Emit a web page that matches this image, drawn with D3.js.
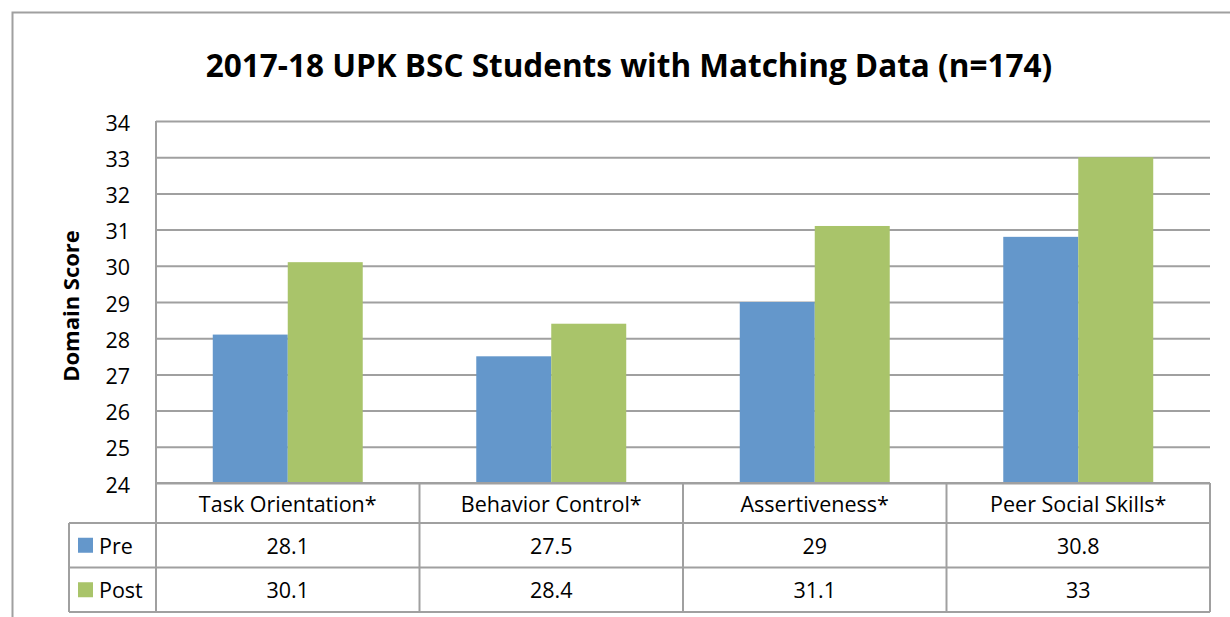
<!DOCTYPE html>
<html>
<head>
<meta charset="utf-8">
<script src="https://cdn.jsdelivr.net/npm/d3@7"></script>
<style>
  body { margin: 0; background: #fff; }
  svg text { font-family: "Open Sans", Lato, sans-serif; fill: #000; }
</style>
</head>
<body>
<div id="chart"></div>
<script>
// chart data
const categories = ["Task Orientation*", "Behavior Control*", "Assertiveness*", "Peer Social Skills*"];
const seriesNames = ["Pre", "Post"];
const preValues = [28.1, 27.5, 29, 30.8];
const postValues = [30.1, 28.4, 31.1, 33];
const yTicks = [24, 25, 26, 27, 28, 29, 30, 31, 32, 33, 34];
const colors = {Pre: "#6497cb", Post: "#a9c46a"};

const seriesValues = {Pre: preValues, Post: postValues};

const W = 1230, H = 617;
const plot = {left: 156, right: 1210, top: 121, bottom: 483};
const gridColor = "#a0a0a0";
const bodySize = "21.5px";

const svg = d3.select("#chart").append("svg")
    .attr("width", W)
    .attr("height", H);

// outer chart border
svg.append("rect")
    .attr("x", 12.5).attr("y", 12.5)
    .attr("width", W).attr("height", H)
    .attr("fill", "none")
    .attr("stroke", gridColor)
    .attr("stroke-width", 2);

// title
svg.append("text")
    .attr("x", 629).attr("y", 77)
    .attr("text-anchor", "middle")
    .style("font-size", "31.5px")
    .style("font-weight", "bold")
    .text("2017-18 UPK BSC Students with Matching Data (n=174)");

// scales
let y = d3.scaleLinear().domain([24, 34]).range([plot.bottom, plot.top]);
let x0 = d3.scaleBand().domain(categories).range([plot.left, plot.right]);
let x1 = d3.scaleBand().domain(seriesNames).range([0, x0.bandwidth()]).paddingOuter(0.757);

// gridlines + y labels
let yAxis = svg.append("g")
    .attr("transform", `translate(${plot.left},0)`)
    .call(d3.axisLeft(y).tickValues(yTicks).tickSize(-(plot.right - plot.left)).tickPadding(26).tickFormat(d3.format("d")));
yAxis.select(".domain").remove();
yAxis.selectAll(".tick line").attr("stroke", gridColor).attr("stroke-width", 2);
yAxis.selectAll(".tick text")
    .style("font-size", bodySize)
    .style("font-family", "'Open Sans', Lato, sans-serif")
    .attr("fill", "#000")
    .attr("dy", "0.42em");

// left axis line
svg.append("line")
    .attr("x1", plot.left).attr("x2", plot.left)
    .attr("y1", plot.top).attr("y2", plot.bottom)
    .attr("stroke", gridColor).attr("stroke-width", 2);

// y axis title
svg.append("text")
    .attr("transform", `translate(79,306) rotate(-90)`)
    .attr("text-anchor", "middle")
    .style("font-size", "22px")
    .style("font-weight", "bold")
    .text("Domain Score");

// bars
let groups = svg.selectAll(".cat")
    .data(categories)
    .enter().append("g")
    .attr("class", "cat")
    .attr("transform", d => `translate(${x0(d)},0)`);

groups.selectAll("rect")
    .data((d, i) => seriesNames.map(s => ({s, v: seriesValues[s][i]})))
    .enter().append("rect")
    .attr("x", d => x1(d.s))
    .attr("width", x1.bandwidth())
    .attr("y", d => y(d.v))
    .attr("height", d => y(24) - y(d.v))
    .attr("fill", d => colors[d.s]);

// data table
const rowTop = plot.bottom, catRowH = 40, rowH = 44.5;
const headLeft = 69;
let tableG = svg.append("g");
let line = (xa, ya, xb, yb) => tableG.append("line")
    .attr("x1", xa).attr("y1", ya).attr("x2", xb).attr("y2", yb)
    .attr("stroke", gridColor).attr("stroke-width", 2);

let tableBottom = rowTop + catRowH + rowH * seriesNames.length;
// horizontal lines
line(plot.left, rowTop, plot.right, rowTop);
line(headLeft, rowTop + catRowH, plot.right, rowTop + catRowH);
seriesNames.forEach((s, i) => {
    let yb = rowTop + catRowH + rowH * (i + 1);
    line(headLeft, yb, plot.right, yb);
});
// vertical lines
line(headLeft, rowTop + catRowH, headLeft, tableBottom);
categories.forEach(c => line(x0(c), rowTop, x0(c), tableBottom));
line(plot.right, rowTop, plot.right, tableBottom);

// category labels
tableG.selectAll(".catLabel")
    .data(categories)
    .enter().append("text")
    .attr("x", d => x0(d) + x0.bandwidth() / 2)
    .attr("y", rowTop + catRowH / 2)
    .attr("dy", "0.4em")
    .attr("text-anchor", "middle")
    .style("font-size", bodySize)
    .text(d => d);

// series rows
seriesNames.forEach((s, i) => {
    let cy = rowTop + catRowH + rowH * i + rowH / 2;
    tableG.append("rect")
        .attr("x", 78).attr("y", cy - 7.5)
        .attr("width", 15).attr("height", 15)
        .attr("fill", colors[s]);
    tableG.append("text")
        .attr("x", 99).attr("y", cy)
        .attr("dy", "0.4em")
        .style("font-size", bodySize)
        .text(s);
    tableG.selectAll(".val" + s)
        .data(seriesValues[s])
        .enter().append("text")
        .attr("x", (d, j) => x0(categories[j]) + x0.bandwidth() / 2)
        .attr("y", cy)
        .attr("dy", "0.4em")
        .attr("text-anchor", "middle")
        .style("font-size", bodySize)
        .text(d => d);
});
</script>
</body>
</html>
